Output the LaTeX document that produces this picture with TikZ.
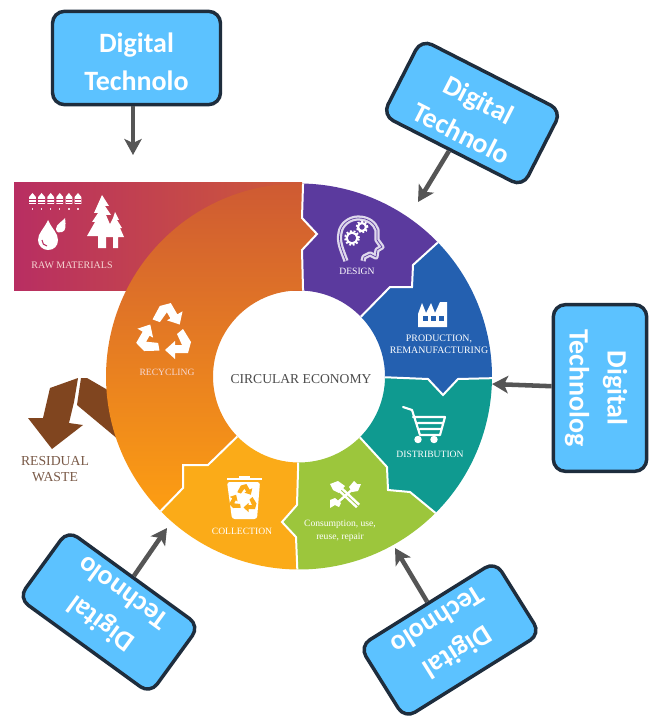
\documentclass[tikz,border=0pt]{standalone}
\usepackage{fontspec}
\setmainfont{Liberation Serif}
\newfontfamily\calloutfont{Carlito}
\usetikzlibrary{calc,arrows.meta}
\definecolor{cdark}{HTML}{1E2D3D}
\definecolor{cblue}{HTML}{5CC2FF}
\definecolor{cgray}{HTML}{555555}
\definecolor{cpurple}{HTML}{5B3A9E}
\definecolor{cprod}{HTML}{2460B0}
\definecolor{cteal}{HTML}{0F9A90}
\definecolor{cgreen}{HTML}{9CC63C}
\definecolor{camber}{HTML}{FBAB18}
\definecolor{cbrown}{HTML}{80451F}
\definecolor{ccrim}{HTML}{B82E62}
\definecolor{cred}{HTML}{CE5A38}
\definecolor{crecy}{HTML}{CE5A33}
\definecolor{crecm}{HTML}{EE7620}
\definecolor{crecb}{HTML}{FD9E12}
\definecolor{ctxtbrown}{HTML}{7A5A48}
\definecolor{cpink}{HTML}{F6D8D4}
\def\Ro{144.75pt}
\def\Ri{64.5pt}
\newcommand{\lowerstrut}{\rule{0pt}{20.5pt}}
\tikzset{
  x=0.75pt,y=-0.75pt,
  callout/.style={draw=cdark,fill=cblue,line width=2.6pt,rounded corners=9pt,
    text=white,align=center,inner sep=0pt,
    font=\calloutfont\bfseries\fontsize{21}{28.5}\selectfont},
  conn/.style={draw=cgray,line width=3.4pt,-{Stealth[length=12pt,width=13pt,inset=3pt]}},
  seam/.style={draw=white,line width=1.5pt,line join=miter},
  ilabel/.style={text=white,inner sep=0pt,font=\fontsize{7.2}{9}\selectfont,align=center},
}
\newcommand{\recyclemark}[4]{%
  \begin{scope}[shift={(#1,#2)},scale=#3]
    \foreach \ang in {0,120,240}{
      \fill[#4,rotate=\ang] (0,17) -- (10,8) -- (10,12) -- (17,12) -- (12,1) -- (18,-4)
        -- (26,9) -- (23,20) -- (10,20) -- (10,26) -- cycle;
    }
  \end{scope}}
\begin{document}
\begin{tikzpicture}
\useasboundingbox (0,0) rectangle (657,720);
\fill[white] (0,0) rectangle (657,720);
\coordinate (C) at (299,376.5);
\foreach \n/\a in {1/88.8,2/44,3/-0.5,4/-45,5/-90.5,6/-135.8}{
  \coordinate (o\n) at ($(C)+(\a:\Ro)$);
  \coordinate (i\n) at ($(C)+(\a:\Ri)$);
}
\coordinate (i1) at ($(C)+(87.3:\Ri)$);
% residual waste
\fill[cbrown] (81,378) -- (87,378) -- (125,400) -- (125,445) -- (77,405) -- cycle;
\fill[cbrown] (78,378) -- (50,388) -- (43,418) -- (28,418) -- (52,449) -- (83,425) -- (69,423) -- (74,402) -- cycle;
% raw materials band
\shade[left color=ccrim,right color=cred] (14,183) rectangle (302,290);
% ring
\shade[top color=crecy,middle color=crecm,bottom color=crecb]
  (o6) arc[start angle=-135.8,end angle=-271.2,radius=\Ro]
  -- (302,218) -- (317,234) -- (302,250) -- (i1)
  arc[start angle=87.3,end angle=224.2,radius=\Ri]
  -- (208,465) -- (183,465) -- (183,488) -- cycle;
\fill[cpurple] (o1) arc[start angle=88.8,end angle=44,radius=\Ro]
  -- (413,265) -- (412,287) -- (390,287) -- (i2)
  arc[start angle=44,end angle=87.3,radius=\Ri]
  -- (302,250) -- (317,234) -- (302,218) -- cycle;
\fill[cprod] (o2) arc[start angle=44,end angle=-0.5,radius=\Ro]
  -- (458,379) -- (443,395) -- (428,379) -- (i3)
  arc[start angle=-0.5,end angle=44,radius=\Ri]
  -- (390,287) -- (412,287) -- (413,265) -- cycle;
\fill[cteal] (o3) arc[start angle=-0.5,end angle=-45,radius=\Ro]
  -- (410,492) -- (388,490) -- (387,467) -- (i4)
  arc[start angle=-45,end angle=-0.5,radius=\Ri]
  -- (428,379) -- (443,395) -- (458,379) -- cycle;
\fill[cgreen] (o4) arc[start angle=-45,end angle=-90.5,radius=\Ro]
  -- (296,537) -- (282,522) -- (297,505) -- (i5)
  arc[start angle=-90.5,end angle=-45,radius=\Ri]
  -- (387,467) -- (388,490) -- (410,492) -- cycle;
\fill[camber] (o5) arc[start angle=-90.5,end angle=-135.8,radius=\Ro]
  -- (183,488) -- (183,465) -- (208,465) -- (i6)
  arc[start angle=-135.8,end angle=-90.5,radius=\Ri]
  -- (297,505) -- (282,522) -- (296,537) -- cycle;
% seams
\draw[seam] (o1) -- (302,218) -- (317,234) -- (302,250) -- (i1);
\draw[seam] (o2) -- (413,265) -- (412,287) -- (390,287) -- (i2);
\draw[seam] (o3) -- (458,379) -- (443,395) -- (428,379) -- (i3);
\draw[seam] (o4) -- (410,492) -- (388,490) -- (387,467) -- (i4);
\draw[seam] (o5) -- (296,537) -- (282,522) -- (297,505) -- (i5);
\draw[seam] (o6) -- (183,488) -- (183,465) -- (208,465) -- (i6);
% raw materials icons
\foreach \i in {0,...,5}{
  \pgfmathsetmacro{\px}{32.5+\i*9.1}
  \fill[white] (\px-3.4,204) -- (\px-3.4,197) -- (\px,193) -- (\px+3.4,197) -- (\px+3.4,204) -- cycle;
  \draw[ccrim,line width=0.5pt] (\px-3.4,199.5) -- (\px+3.4,199.5) (\px-3.4,202) -- (\px+3.4,202);
  \fill[white!80!ccrim] (\px-0.6,208) rectangle (\px+0.6,210);
}
\fill[white] (48,220) .. controls (44,229) and (38,233) .. (38,240) .. controls (38,246) and (43,250) .. (48,250) .. controls (54,250) and (58,246) .. (58,240) .. controls (58,233) and (52,229) .. (48,220) -- cycle;
\draw[ccrim,line width=0.8pt] (42,240) .. controls (42,243) and (44,246) .. (47,246);
\fill[white] (65,218) .. controls (63,221) and (56,224) .. (56,229) .. controls (56,233) and (60,233) .. (62,232) .. controls (66,231) and (66,226) .. (65,218) -- cycle;
\fill[white] (102,195) -- (109,206) -- (105,206) -- (111,215) -- (106,215) -- (115,236) -- (106,236) -- (106,248) -- (98,248) -- (98,236) -- (87,236) -- (95,222) -- (92,222) -- (98,213) -- (94,213) -- cycle;
\fill[white] (115,212) -- (119,220) -- (117,220) -- (122,228) -- (120,228) -- (124,237) -- (118,237) -- (118,248) -- (113,248) -- (113,237) -- (105,237) -- (109,228) -- (108,228) -- (113,218) -- cycle;
% recycling icon
\recyclemark{165}{333}{1}{white}
% head with gears
\draw[draw=white!80!cpurple,line width=1.7pt,double=cpurple,double distance=0.5pt,line join=round]
  (346,261) .. controls (342,250) and (338,242) .. (340,233) .. controls (341,224) and (350,218) .. (358,218)
  .. controls (369,218) and (375,224) .. (377,230) -- (377,240) -- (382,247) -- (377,250) -- (376,257) -- (370,254) -- (364,257) -- (363,261);
\foreach \gx/\gy/\gr in {352/238/5.4,362/227/4}{
  \draw[white,line width=1.6pt] (\gx,\gy) circle[radius=\gr*0.75pt];
  \draw[white,line width=1.3pt,dash pattern=on 1.4pt off 1.4pt] (\gx,\gy) circle[radius=\gr*0.75pt+1.2pt];
}
% factory
\fill[white] (418,327) -- (418,314) -- (422,303) -- (426,313) -- (431,303) -- (435,313) -- (440,302) -- (447,302) -- (447,327) -- cycle;
\foreach \wx in {425,433,441}{\fill[cprod] (\wx-2.5,315.5) rectangle (\wx+2.5,320.5);}
% cart
\draw[white,line width=1.6pt,line join=round,line cap=round]
  (403,407) -- (412,410) -- (420,435) -- (440,435) -- (445,417) -- (413,417)
  (418,423) -- (443,423) (420,429) -- (441,429);
\fill[white] (418,439.5) circle[radius=2.8pt] (434,439.5) circle[radius=2.8pt];
% bin
\fill[white] (227,477.5) rectangle (262,479.5);
\fill[white] (239,476) rectangle (250,478);
\fill[white,rounded corners=2pt] (227,482) -- (260,482) -- (257,519) -- (232,519) -- cycle;
\recyclemark{243.5}{499}{0.5}{camber}
% tools
\draw[draw=white,line width=1.9pt,double=cgreen,double distance=0.6pt]
  (341,490) -- (358,506);
\fill[white] (330,484) -- (338,481) -- (345,486) -- (339,493) -- (333,490) -- cycle;
\draw[white,line width=1.8pt] (354,488) -- (337,503);
\fill[white] (349,487) -- (354,481) -- (357,484) -- (361,484) -- (358,491) -- (352,492) -- cycle;
\fill[white] (330,500) -- (335,498) -- (341,503) -- (339,507) -- (335,505) -- (330,508) -- cycle;
% labels
\node[ilabel,text=cpink,font=\fontsize{7.5}{9}\selectfont] (rawl) at (72,265) {RAW MATERIALS};
\node[ilabel,text=cpink] (recl) at (167,372) {RECYCLING};
\node[inner sep=0pt,text=black!70,font=\fontsize{10.2}{12}\selectfont] (ce) at (301,379) {CIRCULAR ECONOMY};
\node[ilabel] (desl) at (357,271) {DESIGN};
\node[ilabel,font=\fontsize{7.4}{9}\selectfont] (prodl) at (439,344) {PRODUCTION,\\REMANUFACTURING};
\node[ilabel] (distl) at (430,454) {DISTRIBUTION};
\node[ilabel] (coll) at (242,531) {COLLECTION};
\node[ilabel,font=\fontsize{7.2}{9.8}\selectfont] (consl) at (340,530.5) {Consumption, use,\\ reuse, repair};
\node[inner sep=0pt,text=ctxtbrown,align=center,font=\fontsize{10.3}{12}\selectfont] (resl) at (55,469) {RESIDUAL\\WASTE};
% callouts
\node[callout,minimum width=126pt,minimum height=70pt] (b1) at (136.5,58) {\lowerstrut Digital\\Technolo};
\node[callout,minimum width=118pt,minimum height=64pt,rotate=-27] (b2) at (472,113) {\lowerstrut Digital\\Technolo};
\node[callout,minimum width=125pt,minimum height=70pt,rotate=-90] (b3) at (600,388) {\lowerstrut Digital\\Technolog};
\node[callout,minimum width=122pt,minimum height=63pt,rotate=144] (b4) at (109,612) {\lowerstrut Digital\\Technolo};
\node[callout,minimum width=120pt,minimum height=64pt,rotate=-148] (b5) at (450,640) {\lowerstrut Digital\\Technolo};
\coordinate (t1) at (133,155);
\coordinate (t2) at (418,202);
\coordinate (t3) at (492,384);
\coordinate (t4) at (167,528);
\coordinate (t5) at (395,548);
\draw[conn] (b1.south -| t1) -- (t1);
\draw[conn] (b2) -- (t2);
\draw[conn] (b3) -- (t3);
\draw[conn] (b4) -- (t4);
\draw[conn] (b5) -- (t5);
\end{tikzpicture}
\end{document}
